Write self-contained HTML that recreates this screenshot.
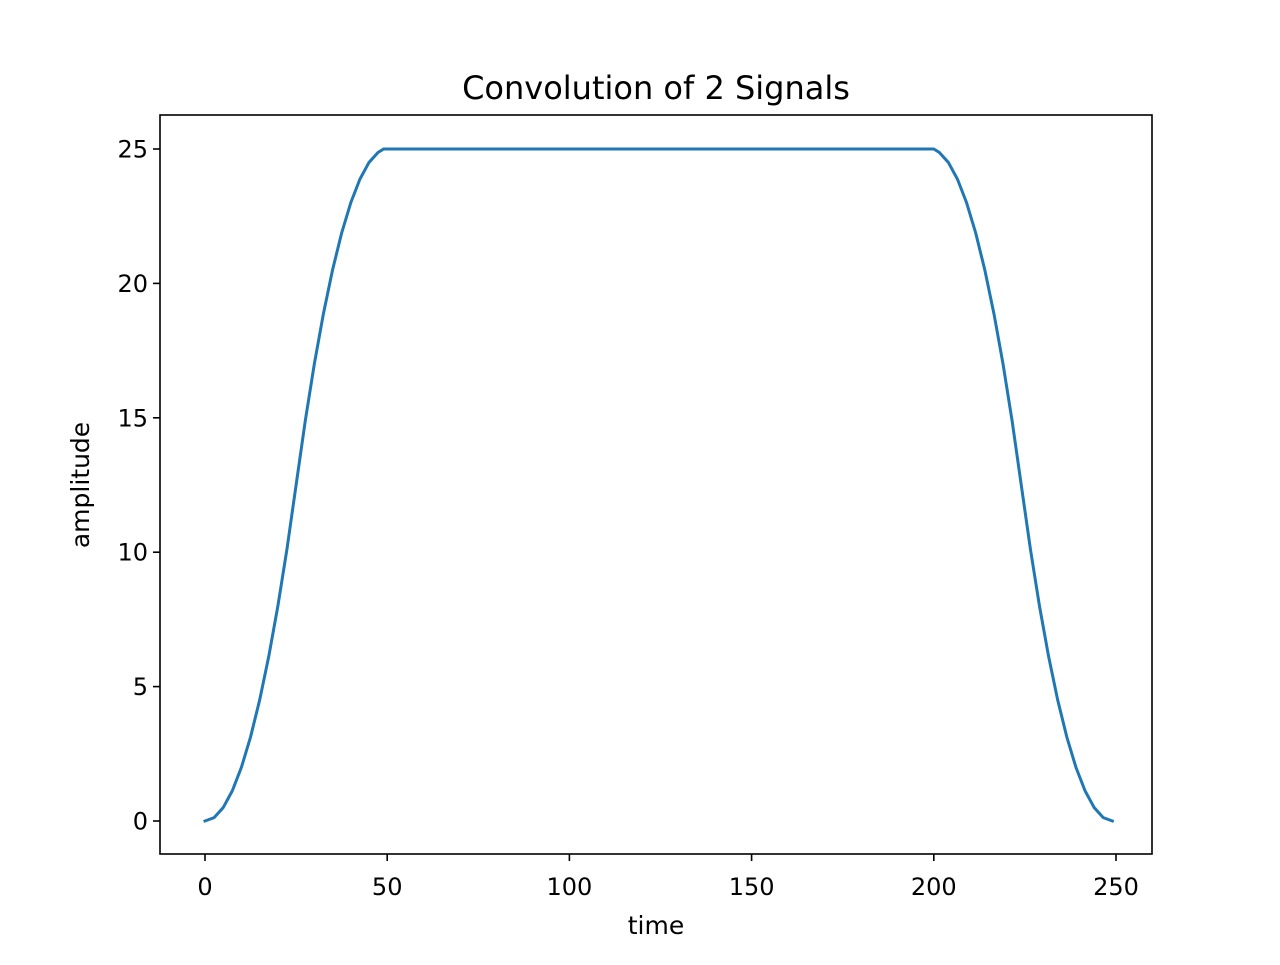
<!DOCTYPE html>
<html><head><meta charset="utf-8"><style>
body{margin:0;background:#fff;}
svg text{font-family:"DejaVu Sans","Liberation Sans",sans-serif;fill:#000;}
</style></head><body>
<svg width="1280" height="960" xmlns="http://www.w3.org/2000/svg">
<rect width="1280" height="960" fill="#fff"/>
<g id="g"></g>
</svg>
<script>
const riseX=[0,2.5,5,7.5,10,12.5,15,17.5,20,22.5,25,27.5,30,32.5,35,37.5,40,42.5,45,47.5,49];
const riseY=[0,0.125,0.5,1.125,2,3.125,4.5,6.125,8,10.125,12.5,14.875,17,18.875,20.5,21.875,23,23.875,24.5,24.875,25];
const fallX=[200,201.5,204,206.5,209,211.5,214,216.5,219,221.5,224,226.5,229,231.5,234,236.5,239,241.5,244,246.5,249];
const fallY=[25,24.875,24.5,23.875,23,21.875,20.5,18.875,17,14.875,12.5,10.125,8,6.125,4.5,3.125,2,1.125,0.5,0.125,0];
const xTicks=[0,50,100,150,200,250];
const yTicks=[0,5,10,15,20,25];
const L=160,R=1152,T=115,B=854;
const xs=v=>205+v*(1116-205)/250;
const ys=v=>821-v*(821-149)/25;
const NS="http://www.w3.org/2000/svg";
const g=document.getElementById('g');
function mk(t,a,txt){const e=document.createElementNS(NS,t);for(const k in a)e.setAttribute(k,a[k]);if(txt!==undefined)e.textContent=txt;g.appendChild(e);return e;}
const xs2=riseX.concat(fallX), ys2=riseY.concat(fallY);
const line=mk('polyline',{points:xs2.map((x,i)=>xs(x)+','+ys(ys2[i])).join(' '),fill:'none',stroke:'#1f77b4','stroke-width':3,'stroke-linejoin':'round','stroke-linecap':'square'});


const frame=mk('rect',{x:L,y:T,width:R-L,height:B-T,fill:'none',stroke:'#000','stroke-width':1.6});


xTicks.forEach(v=>{
  mk('line',{x1:xs(v),x2:xs(v),y1:B,y2:B+7,stroke:'#000','stroke-width':1.6});
  const t=mk('text',{x:xs(v),y:895,'text-anchor':'middle','font-size':'24px'},String(v));
  
  
});
yTicks.forEach(v=>{
  mk('line',{x1:L,x2:L-7,y1:ys(v),y2:ys(v),stroke:'#000','stroke-width':1.6});
  const t=mk('text',{x:L-12,y:ys(v)+8.5,'text-anchor':'end','font-size':'24px'},String(v));
  
  
});
const ti=mk('text',{x:656,y:99,'text-anchor':'middle','font-size':'32px'},'Convolution of 2 Signals');


const xl=mk('text',{x:656,y:934,'text-anchor':'middle','font-size':'25px'},'time');


const yl=mk('text',{x:0,y:0,'text-anchor':'middle','font-size':'25px',transform:'translate(89,485) rotate(-90)'},'amplitude');


</script>
</body></html>
